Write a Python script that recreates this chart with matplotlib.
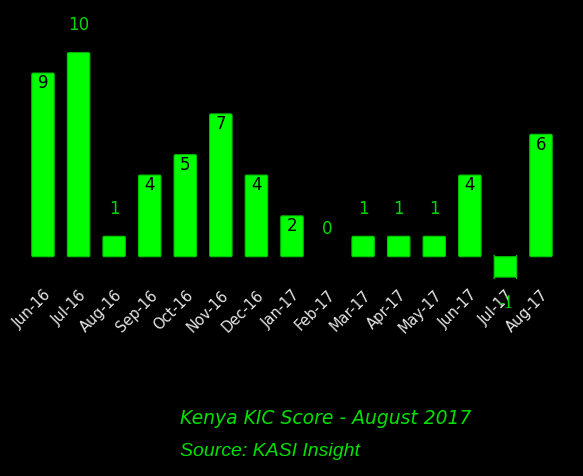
import matplotlib.pyplot as plt
from matplotlib.patches import FancyBboxPatch

months = ["Jun-16", "Jul-16", "Aug-16", "Sep-16", "Oct-16", "Nov-16", "Dec-16",
          "Jan-17", "Feb-17", "Mar-17", "Apr-17", "May-17", "Jun-17", "Jul-17", "Aug-17"]
scores = [9, 10, 1, 4, 5, 7, 4, 2, 0, 1, 1, 1, 4, -1, 6]

green = "#00ff00"
label_green = "#00d800"
W, H = 583, 476

fig = plt.figure(figsize=(W / 100, H / 100), dpi=100, facecolor="black")

# axes placed in pixel terms: bar centres 43..541 px, zero line at ~257 px from top
left_px, right_px = 20, 565
top_px, bottom_px = 30, 282
ax = fig.add_axes([left_px / W, 1 - bottom_px / H,
                   (right_px - left_px) / W, (bottom_px - top_px) / H])
ax.set_facecolor("black")

step = 35.57
unit = 20.4
x = list(range(len(months)))
ax.set_xlim((left_px - 43) / step, (right_px - 43) / step)
ax.set_ylim(-(bottom_px - 256.7) / unit, (256.7 - top_px) / unit)

bars = ax.bar(x, scores, width=0.63, color=green)
# swap plain rectangles for slightly rounded ones
for b, v in zip(bars, scores):
    b.set_visible(False)
    if v == 0:
        continue
    ax.add_patch(FancyBboxPatch((b.get_x(), b.get_y()), b.get_width(), b.get_height(),
                                boxstyle="round,pad=0,rounding_size=0.04",
                                mutation_aspect=step / unit,
                                facecolor=green, edgecolor="#00c800", linewidth=0.8))

for xi, v in zip(x, scores):
    if 2 <= v < 10:
        ax.text(xi, v - 0.06, str(v), ha="center", va="top", fontsize=12, color="black")
    elif v >= 0:
        ax.text(xi, v + 1.35, str(v), ha="center", va="center", fontsize=12, color=label_green)
    else:
        ax.text(xi, v - 1.3, str(v), ha="center", va="center", fontsize=13,
                family="Liberation Serif", color=label_green, zorder=10, clip_on=False)

for s in ax.spines.values():
    s.set_visible(False)
ax.set_yticks([])
ax.set_xticks(x)
ax.set_xticklabels(months, rotation=45, ha="right", rotation_mode="anchor",
                   fontsize=10.5, color="#e6e6e6")
ax.tick_params(axis="x", length=0, pad=4)
ax.xaxis.set_zorder(1)

fig.text(180 / W, 1 - 418 / H, "Kenya KIC Score - August 2017", fontsize=13.5,
         style="italic", color="#00e000", va="center", ha="left")
fig.text(180 / W, 1 - 452 / H, "Source: KASI Insight", fontsize=14,
         family="Liberation Sans", style="italic", color="#00e000", va="center", ha="left")

fig.savefig("out.png", dpi=100, facecolor="black")
